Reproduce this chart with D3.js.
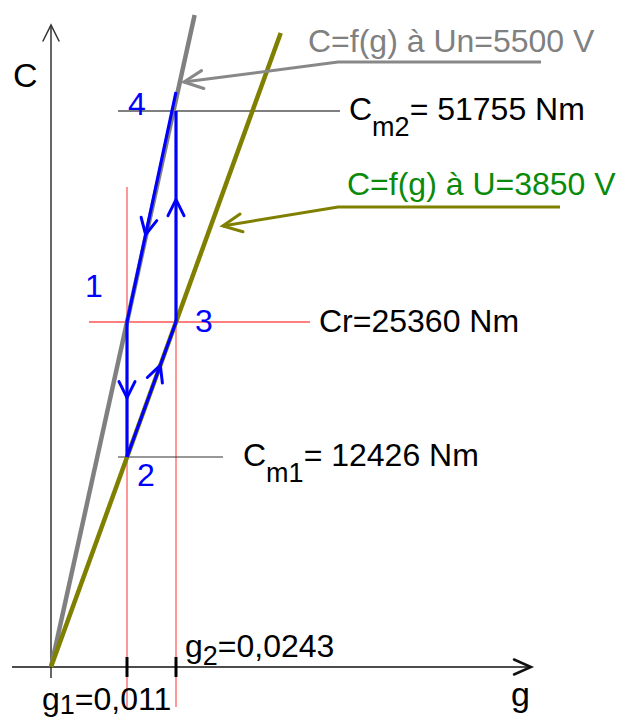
<!DOCTYPE html>
<html>
<head>
<meta charset="utf-8">
<script src="https://cdn.jsdelivr.net/npm/d3@7/dist/d3.min.js"></script>
<style>
  html, body { margin: 0; padding: 0; background: #fff; }
  svg { display: block; font-family: "Liberation Sans", Arial, sans-serif; }
</style>
</head>
<body>
<svg id="chart" width="629" height="720"></svg>
<script>
// ---- data ----
const slipNames = ["g1", "g2"];
const slipValues = [0.011, 0.0243];
const slipLabels = ["=0,011", "=0,0243"];
const torqueNames = ["Cm1", "Cr", "Cm2"];
const torqueValues = [12426, 25360, 51755];
const torqueLabels = ["= 12426 Nm", "Cr=25360 Nm", "= 51755 Nm"];
const cycleNames = ["1", "2", "3", "4"];
const cycleG = [0.011, 0.011, 0.0243, 0.0243];
const cycleC = [25360, 12426, 25360, 51755];
const curveNames = ["C=f(g) à Un=5500 V", "C=f(g) à U=3850 V"];
const axisNames = ["g", "C"];

// ---- scales (schematic, piecewise) ----
const [g1, g2] = slipValues;
const [Cm1, Cr, Cm2] = torqueValues;
const x = d3.scaleLinear().domain([0, g1, g2]).range([51, 127, 176]);
const y = d3.scaleLinear().domain([0, Cm1, Cr, Cm2]).range([667, 457, 322, 111]);

const svg = d3.select("#chart");
const FS = 32, SUB = 27;

function chevron(tip, from, len, half, color, w) {
  const a = Math.atan2(tip[1] - from[1], tip[0] - from[0]);
  const bx = tip[0] - len * Math.cos(a), by = tip[1] - len * Math.sin(a);
  const px = -Math.sin(a), py = Math.cos(a);
  svg.append("path")
    .attr("d", `M${bx + half * px},${by + half * py}L${tip[0]},${tip[1]}L${bx - half * px},${by - half * py}`)
    .attr("fill", "none").attr("stroke", color).attr("stroke-width", w)
    .attr("stroke-linecap", "round").attr("stroke-linejoin", "miter");
}
function lerp(p, q, t) { return [p[0] + (q[0] - p[0]) * t, p[1] + (q[1] - p[1]) * t]; }

// ---- red guide verticals at g1, g2 ----
slipValues.forEach(v => {
  svg.append("line").attr("x1", x(v)).attr("x2", x(v)).attr("y1", 187).attr("y2", 707)
    .attr("stroke", "#ff3030").attr("stroke-width", 1);
});

// ---- horizontal torque lines ----
const hSpans = { Cm1: [118, 223, "#333"], Cr: [89, 310, "#ff0000"], Cm2: [118, 340, "#000"] };
torqueNames.forEach((n, i) => {
  const s = hSpans[n];
  svg.append("line").attr("x1", s[0]).attr("x2", s[1])
    .attr("y1", y(torqueValues[i])).attr("y2", y(torqueValues[i]))
    .attr("stroke", s[2]).attr("stroke-width", 1.2);
});

// ---- axes ----
const x0 = x(0), y0 = y(0);
svg.append("line").attr("x1", x0).attr("x2", x0).attr("y1", 25).attr("y2", 678)
  .attr("stroke", "#333").attr("stroke-width", 1.5);
chevron([x0, 25], [x0, 100], 16, 8, "#333", 1.5);
svg.append("line").attr("x1", 12).attr("x2", 530).attr("y1", y0).attr("y2", y0)
  .attr("stroke", "#111").attr("stroke-width", 1.5);
chevron([531, y0], [400, y0], 17, 7.5, "#111", 2.5);
slipValues.forEach(v => {
  svg.append("line").attr("x1", x(v)).attr("x2", x(v)).attr("y1", y0 - 10).attr("y2", y0 + 10)
    .attr("stroke", "#000").attr("stroke-width", 3);
});
svg.append("text").attr("x", 13).attr("y", 87).attr("font-size", 34).text(axisNames[1]);
svg.append("text").attr("x", 511).attr("y", 706).attr("font-size", 34).text(axisNames[0]);

// ---- characteristic curves (through origin and the operating points at Cr) ----
const pGray = [x(g1), y(Cr)], pOlive = [x(g2), y(Cr)];
function extendTo(p, yTop) {
  const t = (y0 - yTop) / (y0 - p[1]);
  return [x0 + (p[0] - x0) * t, yTop];
}
const grayTop = extendTo(pGray, 15), oliveTop = extendTo(pOlive, 33);
svg.append("line").attr("x1", x0).attr("y1", y0).attr("x2", grayTop[0]).attr("y2", grayTop[1])
  .attr("stroke", "#808080").attr("stroke-width", 4.5);
svg.append("line").attr("x1", x0).attr("y1", y0).attr("x2", oliveTop[0]).attr("y2", oliveTop[1])
  .attr("stroke", "#808000").attr("stroke-width", 4.5);

// ---- curve labels with leader arrows ----
const curveStyles = [
  { color: "#808080", lead: "#888", tx: 308, ty: 52, uy: 62, ux1: 338, ux2: 541, tipY: 82, gap: 4 },
  { color: "#0a8a0a", lead: "#808000", tx: 347, ty: 195, uy: 207, ux1: 338, ux2: 560, tipY: 226, gap: 12 }
];
curveNames.forEach((n, i) => {
  const s = curveStyles[i];
  const p = i === 0 ? pGray : pOlive;
  const cx = x0 + (p[0] - x0) * (y0 - s.tipY) / (y0 - p[1]) + s.gap;
  const tip = [cx, s.tipY];
  svg.append("polyline").attr("points", `${s.ux2},${s.uy} ${s.ux1},${s.uy} ${tip[0]},${tip[1]}`)
    .attr("fill", "none").attr("stroke", s.lead).attr("stroke-width", 3);
  chevron(tip, [s.ux1, s.uy], 19, 9, s.lead, 3);
  svg.append("text").attr("x", s.tx).attr("y", s.ty).attr("font-size", FS)
    .attr("fill", s.color).text(n);
});

// ---- blue operating cycle 3 -> 4 -> 1 -> 2 -> 3 ----
const P = cycleNames.map((n, i) => [x(cycleG[i]), y(cycleC[i])]);
const [P1, P2, P3, P4] = P;
const blue = "#0000ff";
const P4top = [P4[0], P4[1] - 19];
const segs = [
  { a: P3, b: P4, t: 0.58 },
  { a: P4top, b: P1, t: 0.62 },
  { a: P1, b: P2, t: 0.56 },
  { a: P2, b: P3, t: 0.68 }
];
segs.forEach(s => {
  svg.append("line").attr("x1", s.a[0]).attr("y1", s.a[1]).attr("x2", s.b[0]).attr("y2", s.b[1])
    .attr("stroke", blue).attr("stroke-width", 3.2);
});
segs.forEach(s => {
  chevron(lerp(s.a, s.b, s.t), s.a, 16, 8, blue, 3);
});

// cycle point numbers
const numPos = { "1": [-42, -25], "2": [10, 29], "3": [19, 10], "4": [-48, 4] };
cycleNames.forEach((n, i) => {
  svg.append("text").attr("x", P[i][0] + numPos[n][0]).attr("y", P[i][1] + numPos[n][1])
    .attr("font-size", FS).attr("fill", blue).text(n);
});

// ---- torque labels ----
const tl = { Cm1: [243, 466], Cr: [319, 332], Cm2: [349, 120] };
torqueNames.forEach((n, i) => {
  const t = svg.append("text").attr("x", tl[n][0]).attr("y", tl[n][1]).attr("font-size", FS).attr("fill", "#000");
  if (n === "Cr") {
    t.text(torqueLabels[i]);
  } else {
    t.append("tspan").text("C");
    t.append("tspan").attr("font-size", SUB).attr("dy", 16).text(n.slice(1));
    t.append("tspan").attr("dy", -16).text(torqueLabels[i]);
  }
});

// ---- slip labels ----
const sl = [[42, 710], [185, 657]];
const subDy = [4, 8];
slipNames.forEach((n, i) => {
  const t = svg.append("text").attr("x", sl[i][0]).attr("y", sl[i][1]).attr("font-size", FS).attr("fill", "#000");
  t.append("tspan").text("g");
  t.append("tspan").attr("font-size", SUB).attr("dy", subDy[i]).text(n.slice(1));
  t.append("tspan").attr("dy", -subDy[i]).text(slipLabels[i]);
});
</script>
</body>
</html>
